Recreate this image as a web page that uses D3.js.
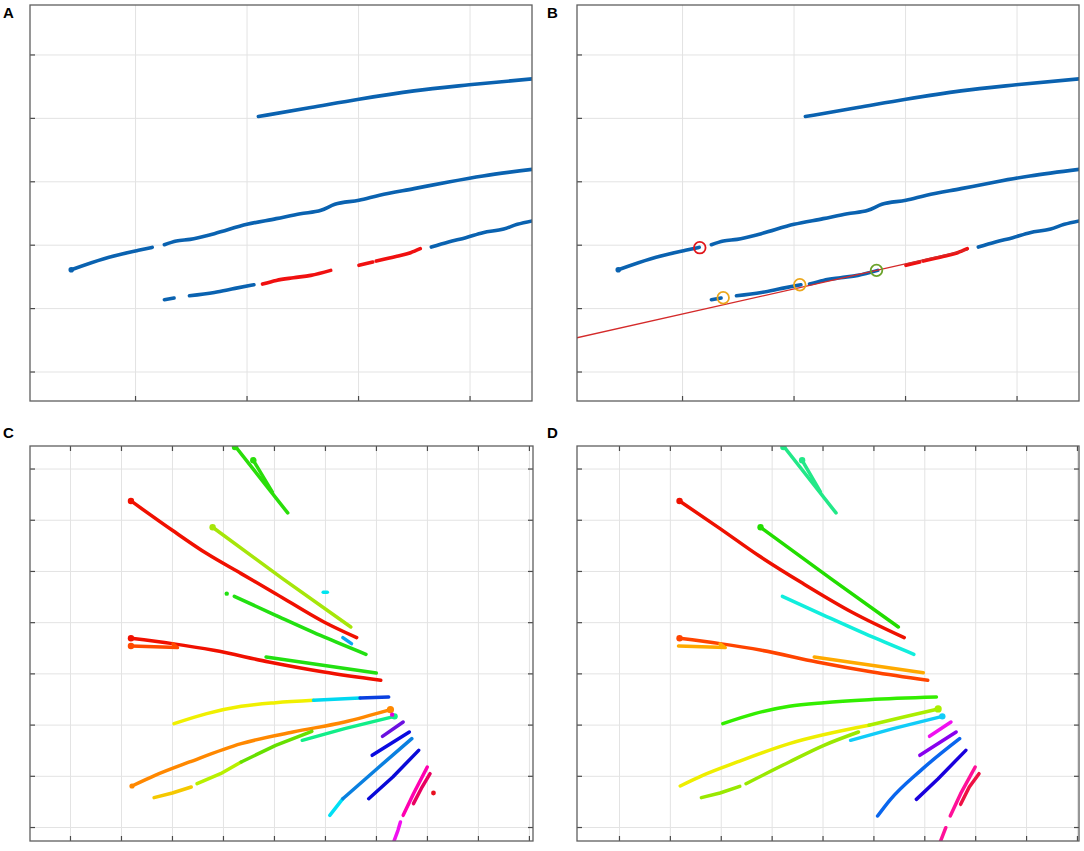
<!DOCTYPE html>
<html>
<head>
<meta charset="utf-8">
<script src="https://cdn.jsdelivr.net/npm/d3@7"></script>
<style>
  body { margin: 0; background: #fff; }
  .lbl { font-family: "Liberation Sans", Arial, sans-serif; font-weight: bold; font-size: 15px; }
</style>
</head>
<body>
<svg id="fig" width="1084" height="851"></svg>
<script>
// ---------- panel A / B data (grid units) ----------
const abXTicks = [1, 2, 3, 4];
const abYTicks = [1, 2, 3, 4, 5, 6];

const topCurve = [[2.106,5.021],[2.576,5.163],[3.008,5.295],[3.502,5.426],[3.997,5.521],[4.562,5.616]];
const midCurve1 = [[0.428,2.605],[0.722,2.779],[1.031,2.911],[1.154,2.958]];
const midCurve2 = [[1.263,3.0],[1.371,3.058],[1.494,3.084],[1.711,3.174],[2.004,3.321],[2.267,3.411],
  [2.483,3.489],[2.668,3.542],[2.792,3.637],[3.008,3.700],[3.193,3.779],[3.502,3.884],[3.811,3.989],
  [4.120,4.084],[4.562,4.189]];
const lowSeg1 = [[1.263,2.132],[1.350,2.160]];
const lowSeg2 = [[1.488,2.195],[1.711,2.247],[1.896,2.311],[2.066,2.368]];
const lowSeg3 = [[2.143,2.379],[2.267,2.437],[2.421,2.479],[2.576,2.516],[2.755,2.595]];
const lowSeg4 = [[3.008,2.674],[3.132,2.726]];
const lowSeg5 = [[3.163,2.742],[3.348,2.816],[3.471,2.874],[3.558,2.937]];
const lowSeg6 = [[3.657,2.963],[3.811,3.042],[3.966,3.111],[4.120,3.189],[4.306,3.247],[4.429,3.321],[4.562,3.374]];
const lowSegs = [lowSeg1, lowSeg2, lowSeg3, lowSeg4, lowSeg5, lowSeg6];
const lowColorsA = ["#0a62b0","#0a62b0","#f01010","#f01010","#f01010","#0a62b0"];
const lowColorsB = ["#0a62b0","#0a62b0","#0a62b0","#f01010","#f01010","#0a62b0"];

const fitLine = [[0.056,1.532],[3.56,2.918]];
const bCircles = [[1.159,2.953],[1.369,2.163],[2.056,2.368],[2.744,2.595]];
const bCircleColors = ["#e0151b","#eba71c","#eba71c","#6aa22a"];

// ---------- panel C / D data (grid units) ----------
const cdXTicks = [1,2,3,4,5,6,7,8,9,10];
const cdYTicks = [1,2,3,4,5,6,7,8];

const cTraces = [
  [[4.236,8.44],[5.270,7.133]],
  [[4.595,8.161],[4.966,7.543]],
  [[2.196,7.367],[3.007,6.794],[3.682,6.339],[4.358,5.948],[5.034,5.557],[5.980,5.004],[6.622,4.698]],
  [[3.797,6.853],[5.169,5.850],[6.507,4.906]],
  [[5.966,5.583],[6.047,5.583]],
  [[4.223,5.505],[5.034,5.134],[5.980,4.711],[6.804,4.372]],
  [[6.351,4.698],[6.520,4.581]],
  [[2.196,4.685],[3.007,4.581],[3.818,4.451],[4.899,4.223],[5.980,4.027],[7.095,3.865]],
  [[2.196,4.535],[3.108,4.503],[3.020,4.575]],
  [[4.845,4.320],[7.007,4.008]],
  [[3.041,3.018],[3.682,3.214],[4.358,3.357],[5.034,3.428],[5.777,3.474]],
  [[5.777,3.474],[6.689,3.520]],
  [[6.689,3.520],[7.250,3.539]],
  [[2.216,1.801],[2.669,2.009],[3.345,2.270],[4.358,2.628],[5.372,2.855],[6.385,3.051],[7.284,3.292]],
  [[5.554,2.693],[6.385,2.921],[7.365,3.161]],
  [[2.649,1.573],[3.007,1.664],[3.378,1.781]],
  [[3.493,1.846],[3.953,2.042],[4.358,2.270]],
  [[4.358,2.270],[5.034,2.595],[5.743,2.868]],
  [[7.128,2.771],[7.534,3.051]],
  [[6.926,2.400],[7.655,2.855]],
  [[6.095,1.228],[6.351,1.553]],
  [[6.351,1.553],[7.061,2.172],[7.703,2.725]],
  [[6.858,1.553],[7.331,1.977],[7.838,2.497]],
  [[7.534,1.228],[7.736,1.651],[8.007,2.172]],
  [[7.736,1.456],[7.905,1.781],[8.061,2.042]],
  [[7.345,0.70],[7.432,0.935],[7.480,1.098]]
];
const cColors = ["#2ade0a","#2ade0a","#f01000","#a6e60a","#00e5f0","#22e011","#0aa8f0","#f01000","#ff4a00",
  "#22e011","#f0f000","#00d8f0","#0a40e0","#ff8800","#11ee88","#f5c800","#b8f000","#66e000","#6a10e0",
  "#0a0ae0","#00e0f5","#0a80e0","#0a0ad8","#ff00b0","#e80060","#f010f0"];
const cDots = [[4.236,8.42],[4.595,8.161],[2.196,7.367],[3.797,6.853],[4.074,5.557],[2.196,4.685],[2.196,4.535],
  [7.284,3.292],[7.365,3.161],[7.318,3.194],[8.128,1.664],[2.216,1.801]];
const cDotColors = ["#2ade0a","#2ade0a","#f01000","#a6e60a","#22e011","#f01000","#ff4a00","#ff8800","#11ee88",
  "#e000e0","#e81020","#ff8800"];
const cDotSizes = [3.2,3.2,3.2,3.2,2.2,3.2,3.2,3.6,3.2,2.2,2.4,2.6];

const dTraces = [
  [[4.231,8.44],[5.265,7.133]],
  [[4.599,8.161],[4.959,7.543]],
  [[2.190,7.367],[2.986,6.827],[3.735,6.306],[4.619,5.753],[5.571,5.199],[6.605,4.698]],
  [[3.782,6.853],[5.163,5.850],[6.490,4.906]],
  [[4.211,5.505],[5.027,5.134],[5.980,4.711],[6.796,4.372]],
  [[2.190,4.685],[2.986,4.581],[3.803,4.451],[4.891,4.223],[5.980,4.027],[7.068,3.865]],
  [[2.170,4.535],[3.088,4.503],[2.986,4.574]],
  [[4.837,4.320],[6.980,4.014]],
  [[3.041,3.018],[3.667,3.214],[4.347,3.357],[5.027,3.428],[5.912,3.487],[7.238,3.539]],
  [[2.204,1.801],[2.646,2.009],[3.327,2.270],[4.347,2.628],[5.912,2.986]],
  [[5.912,2.986],[6.592,3.148],[7.272,3.305]],
  [[5.551,2.693],[6.388,2.921],[7.354,3.161]],
  [[2.619,1.573],[2.986,1.664],[3.374,1.794]],
  [[3.497,1.846],[4.347,2.270],[5.027,2.595],[5.707,2.855]],
  [[7.102,2.771],[7.524,3.051]],
  [[6.912,2.400],[7.626,2.855]],
  [[6.082,1.215],[6.320,1.521],[6.932,2.107],[7.694,2.725]],
  [[6.844,1.540],[7.272,1.944],[7.816,2.497]],
  [[7.510,1.215],[7.714,1.651],[8.000,2.172]],
  [[7.714,1.443],[7.884,1.781],[8.075,2.042]],
  [[7.310,0.70],[7.422,0.987]]
];
const dColors = ["#22e888","#22e888","#ee1100","#22dd00","#11eedd","#ff4400","#ffaa00","#ffaa00","#33ee00",
  "#eeee00","#aaee00","#11ccf8","#99e800","#99e800","#f010f0","#8800ee","#0a66ee","#1a00dd","#ff1099",
  "#ee1044","#ff1099"];
const dDots = [[4.231,8.42],[4.599,8.161],[2.190,7.367],[3.782,6.853],[2.190,4.685],[7.272,3.305],[7.354,3.161]];
const dDotColors = ["#22e888","#22e888","#ee1100","#22dd00","#ff4400","#aaee00","#11ccf8"];
const dDotSizes = [3.2,3.2,3.2,3.2,3.2,3.6,3.2];

// ---------- drawing ----------
const svg = d3.select('#fig');

function makePanel(id, box, xDom, yDom, xTicks, yTicks, allSides) {
  const x = d3.scaleLinear().domain(xDom).range([box.x0, box.x1]);
  const y = d3.scaleLinear().domain(yDom).range([box.y1, box.y0]);
  const w = box.x1 - box.x0, h = box.y1 - box.y0;
  const g = svg.append('g');

  svg.append('clipPath').attr('id', 'clip-' + id)
    .append('rect').attr('x', box.x0).attr('y', box.y0).attr('width', w).attr('height', h);

  // grid
  g.append('g').attr('transform', `translate(0,${box.y1})`)
    .call(d3.axisBottom(x).tickValues(xTicks).tickSize(-h).tickFormat(''))
    .call(s => s.select('.domain').remove())
    .call(s => s.selectAll('line').attr('stroke', '#e3e3e3').attr('stroke-width', 1));
  g.append('g').attr('transform', `translate(${box.x0},0)`)
    .call(d3.axisLeft(y).tickValues(yTicks).tickSize(-w).tickFormat(''))
    .call(s => s.select('.domain').remove())
    .call(s => s.selectAll('line').attr('stroke', '#e3e3e3').attr('stroke-width', 1));

  const plot = g.append('g').attr('clip-path', `url(#clip-${id})`);

  // inward ticks
  const tk = g.append('g');
  tk.append('g').attr('transform', `translate(0,${box.y1})`)
    .call(d3.axisBottom(x).tickValues(xTicks).tickSize(-5).tickFormat(''))
    .call(s => s.select('.domain').remove());
  tk.append('g').attr('transform', `translate(${box.x0},0)`)
    .call(d3.axisLeft(y).tickValues(yTicks).tickSize(-5).tickFormat(''))
    .call(s => s.select('.domain').remove());
  if (allSides) {
    tk.append('g').attr('transform', `translate(0,${box.y0})`)
      .call(d3.axisTop(x).tickValues(xTicks).tickSize(-5).tickFormat(''))
      .call(s => s.select('.domain').remove());
    tk.append('g').attr('transform', `translate(${box.x1},0)`)
      .call(d3.axisRight(y).tickValues(yTicks).tickSize(-5).tickFormat(''))
      .call(s => s.select('.domain').remove());
  }
  tk.selectAll('line').attr('stroke', '#4a4a4a').attr('stroke-width', 1.2);

  // box drawn last so it sits on top
  g.append('rect').attr('x', box.x0).attr('y', box.y0).attr('width', w).attr('height', h)
    .attr('fill', 'none').attr('stroke', '#5f5f5f').attr('stroke-width', 1.3);

  return { x, y, plot };
}

function drawTrace(p, pts, color, width) {
  // smooth only the longer traces; short ones stay straight
  const curve = pts.length > 3 ? d3.curveMonotoneX : d3.curveLinear;
  const mono = pts.every((d, i) => i === 0 || d[0] > pts[i - 1][0]);
  const line = d3.line().x(d => p.x(d[0])).y(d => p.y(d[1]))
    .curve(mono && pts.length > 3 ? curve : (pts.length > 3 ? d3.curveCatmullRom : d3.curveLinear));
  p.plot.append('path').datum(pts)
    .attr('fill', 'none').attr('stroke', color).attr('stroke-width', width)
    .attr('stroke-linecap', 'round').attr('stroke-linejoin', 'round')
    .attr('d', line);
}

function drawDots(p, pts, colors, sizes) {
  p.plot.selectAll(null).data(pts).enter().append('circle')
    .attr('cx', d => p.x(d[0])).attr('cy', d => p.y(d[1])).attr('r', (d, i) => sizes[i])
    .attr('fill', (d, i) => colors[i]);
}

const abXDom = [0.058, 4.56], abYDom = [0.535, 6.78];
const pA = makePanel('A', {x0: 30, x1: 532, y0: 5, y1: 401}, abXDom, abYDom, abXTicks, abYTicks, false);
const pB = makePanel('B', {x0: 577, x1: 1079, y0: 5, y1: 401}, abXDom, abYDom, abXTicks, abYTicks, false);

[pA, pB].forEach((p, k) => {
  const blue = "#0a62b0";
  drawTrace(p, topCurve, blue, 3.6);
  drawTrace(p, midCurve1, blue, 3.6);
  drawTrace(p, midCurve2, blue, 3.6);
  drawDots(p, [midCurve1[0]], [blue], [2.8]);
  const cols = k === 0 ? lowColorsA : lowColorsB;
  lowSegs.forEach((s, i) => drawTrace(p, s, cols[i], 3.6));
});

// fitted line and markers in B
drawTrace(pB, fitLine, "#d42a2a", 1.3);
pB.plot.selectAll(null).data(bCircles).enter().append('circle')
  .attr('cx', d => pB.x(d[0])).attr('cy', d => pB.y(d[1])).attr('r', 5.8)
  .attr('fill', 'none').attr('stroke', (d, i) => bCircleColors[i]).attr('stroke-width', 1.8);

const pC = makePanel('C', {x0: 30, x1: 533, y0: 446, y1: 841}, [0.216, 10.08], [0.727, 8.44], cdXTicks, cdYTicks, true);
const pD = makePanel('D', {x0: 577, x1: 1079, y0: 446, y1: 841}, [0.175, 10.04], [0.727, 8.44], cdXTicks, cdYTicks, true);

cTraces.forEach((t, i) => drawTrace(pC, t, cColors[i], 3.5));
drawDots(pC, cDots, cDotColors, cDotSizes);
dTraces.forEach((t, i) => drawTrace(pD, t, dColors[i], 3.5));
drawDots(pD, dDots, dDotColors, dDotSizes);

// panel letters
const letters = [["A", 3, 18], ["B", 547, 18], ["C", 3, 438], ["D", 547, 438]];
svg.selectAll('text.lbl').data(letters).enter().append('text')
  .attr('class', 'lbl').attr('x', d => d[1]).attr('y', d => d[2]).text(d => d[0]);
</script>
</body>
</html>
